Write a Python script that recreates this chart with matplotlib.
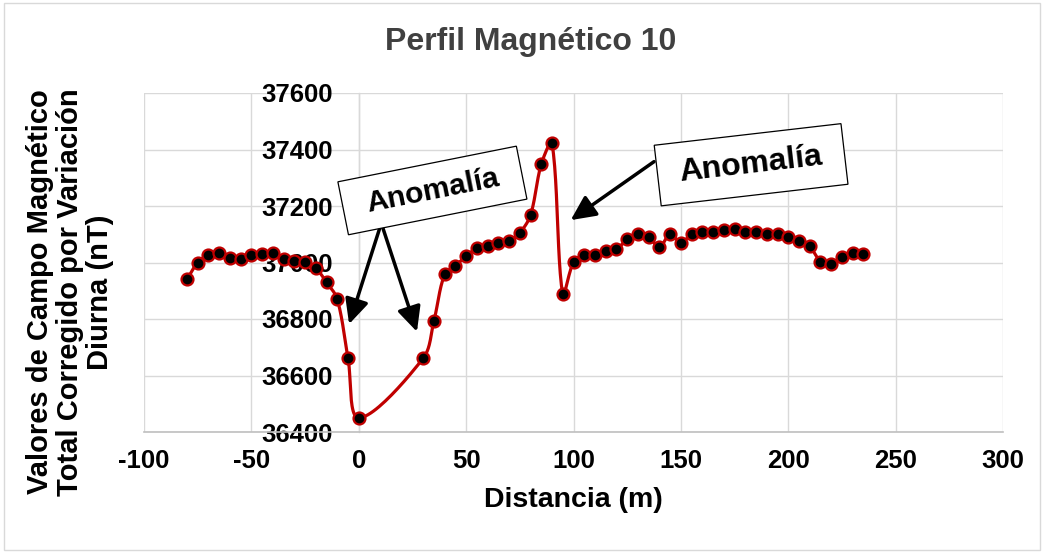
import numpy as np
import matplotlib
matplotlib.use("Agg")
import matplotlib.pyplot as plt
import matplotlib.patches as mpatches
import matplotlib.transforms as mtransforms

plt.rcParams['font.family'] = ['Liberation Sans', 'DejaVu Sans']
plt.rcParams['font.weight'] = 'bold'
plt.rcParams['axes.unicode_minus'] = False

# ---- data ----
distancia = [-80, -75, -70, -65, -60, -55, -50, -45, -40, -35, -30, -25, -20,
             -15, -10, -5, 0,
             30, 35, 40, 45, 50, 55, 60, 65, 70, 75, 80, 85, 90, 95, 100, 105,
             110, 115, 120, 125, 130, 135, 140, 145, 150, 155, 160, 165, 170,
             175, 180, 185, 190, 195, 200, 205, 210, 215, 220, 225, 230, 235]
campo = [36940, 37000, 37027, 37033, 37015, 37013, 37028, 37029, 37035, 37012,
         37007, 37002, 36980, 36930, 36870, 36661, 36450,
         36661, 36793, 36958, 36988, 37023, 37050, 37060, 37070, 37075, 37105,
         37168, 37348, 37422, 36887, 37001, 37027, 37028, 37042, 37047, 37082,
         37100, 37091, 37054, 37101, 37070, 37100, 37108, 37107, 37115, 37120,
         37107, 37107, 37100, 37100, 37091, 37075, 37057, 37003, 36995, 37021,
         37035, 37029]

x_ticks = [-100, -50, 0, 50, 100, 150, 200, 250, 300]
y_ticks = [36400, 36600, 36800, 37000, 37200, 37400, 37600]

titulo = "Perfil Magnético 10"
x_label = "Distancia (m)"
y_label = "Valores de Campo Magnético\nTotal Corregido por Variación\nDiurna (nT)"
anot_texto = "Anomalía"


def smooth_display(ax, xs, ys, n=24):
    """Excel-like smoothed line, computed in screen space with
    segment-length-proportional Bezier control points."""
    p = ax.transData.transform(np.column_stack([xs, ys]).astype(float))
    m = len(p)
    L = np.hypot(*np.diff(p, axis=0).T)
    out = []
    t = np.linspace(0, 1, n)[:, None]
    for i in range(m - 1):
        p1, p2 = p[i], p[i + 1]
        # control point after p1
        if i == 0:
            c1 = p1 + (p2 - p1) / 3.0
        else:
            T = p2 - p[i - 1]
            c1 = p1 + T * L[i] / (L[i - 1] + L[i]) / 3.0
        # control point before p2
        if i + 1 == m - 1:
            c2 = p2 - (p2 - p1) / 3.0
        else:
            T = p[i + 2] - p1
            c2 = p2 - T * L[i] / (L[i] + L[i + 1]) / 3.0
        seg = ((1 - t) ** 3) * p1 + 3 * ((1 - t) ** 2) * t * c1 + \
              3 * (1 - t) * t ** 2 * c2 + t ** 3 * p2
        out.append(seg if i == 0 else seg[1:])
    c = ax.transData.inverted().transform(np.vstack(out))
    return c[:, 0], c[:, 1]


W, H = 1043, 552
fig = plt.figure(figsize=(W / 100, H / 100), dpi=100)
fig.patch.set_facecolor('white')

# chart-area border
fig.patches.append(mpatches.Rectangle((4 / W, 2 / H), 1036 / W, 547 / H,
                                      transform=fig.transFigure, fill=False,
                                      edgecolor='#d9d9d9', linewidth=1.0))

ax = fig.add_axes([144 / W, (H - 432) / H, (1003 - 144) / W, (432 - 93) / H])
ax.set_xlim(-100, 300)
ax.set_ylim(36400, 37600)
ax.set_xticks(x_ticks)
ax.set_yticks(y_ticks)
ax.grid(True, color='#d9d9d9', linewidth=1.0)
ax.set_axisbelow(True)

for s in ['top', 'right']:
    ax.spines[s].set_visible(False)
ax.spines['left'].set_position(('data', 0))
ax.spines['left'].set_color('#d9d9d9')
ax.spines['left'].set_linewidth(1.0)
ax.spines['bottom'].set_color('#bfbfbf')
ax.spines['bottom'].set_linewidth(1.2)

ax.tick_params(axis='y', length=0, pad=18.5, labelsize=18.5)
ax.tick_params(axis='x', length=0, pad=12.5, labelsize=18.5)
for lab in ax.get_xticklabels() + ax.get_yticklabels():
    lab.set_fontweight('bold')

sx, sy = smooth_display(ax, distancia, campo)
ax.plot(sx, sy, color='#C00000', linewidth=2.3, zorder=3)
ax.plot(distancia, campo, linestyle='none', marker='o', markersize=8.6,
        markerfacecolor='black', markeredgecolor='#C00000',
        markeredgewidth=1.6, zorder=4)

# titles
fig.text(531 / W, 1 - 42 / H, titulo, ha='center', va='center',
         fontsize=23, fontweight='bold', color='#404040')
fig.text(573 / W, 1 - 500 / H, x_label, ha='center', va='center',
         fontsize=20.5, fontweight='bold', color='black')
fig.text(70 / W, 1 - 292 / H, y_label, ha='center', va='center',
         rotation=90, fontsize=21, fontweight='bold', color='black',
         linespacing=1.1, multialignment='center')


def caja(cx, cy, w, h, ang, fs):
    tr = mtransforms.Affine2D().translate(-w / 2, -h / 2).rotate_deg(ang) + \
        mtransforms.ScaledTranslation(cx, cy, ax.transData)
    rect = mpatches.Rectangle((0, 0), w, h, transform=tr, facecolor='white',
                              edgecolor='black', linewidth=0.9, zorder=6)
    ax.add_patch(rect)
    ax.text(cx, cy, anot_texto, ha='center', va='center', rotation=ang,
            rotation_mode='anchor', fontsize=fs, fontweight='bold',
            color='black', zorder=7)


def flecha(x0, y0, x1, y1):
    ax.annotate('', xy=(x1, y1), xytext=(x0, y0),
                arrowprops=dict(arrowstyle='-|>,head_length=0.5,head_width=0.24',
                                color='black', lw=2.5, mutation_scale=30,
                                shrinkA=0, shrinkB=0), zorder=5)


flecha(10.5, 37139, -4.5, 36782)
flecha(10.5, 37139, 27.1, 36755)
flecha(137.5, 37357, 98.7, 37150)
caja(34.3, 37255, 182, 54, 11.3, 21.5)
caja(182.7, 37346, 188, 61, 6.6, 23)

fig.savefig('out.png', dpi=100, facecolor='white')
